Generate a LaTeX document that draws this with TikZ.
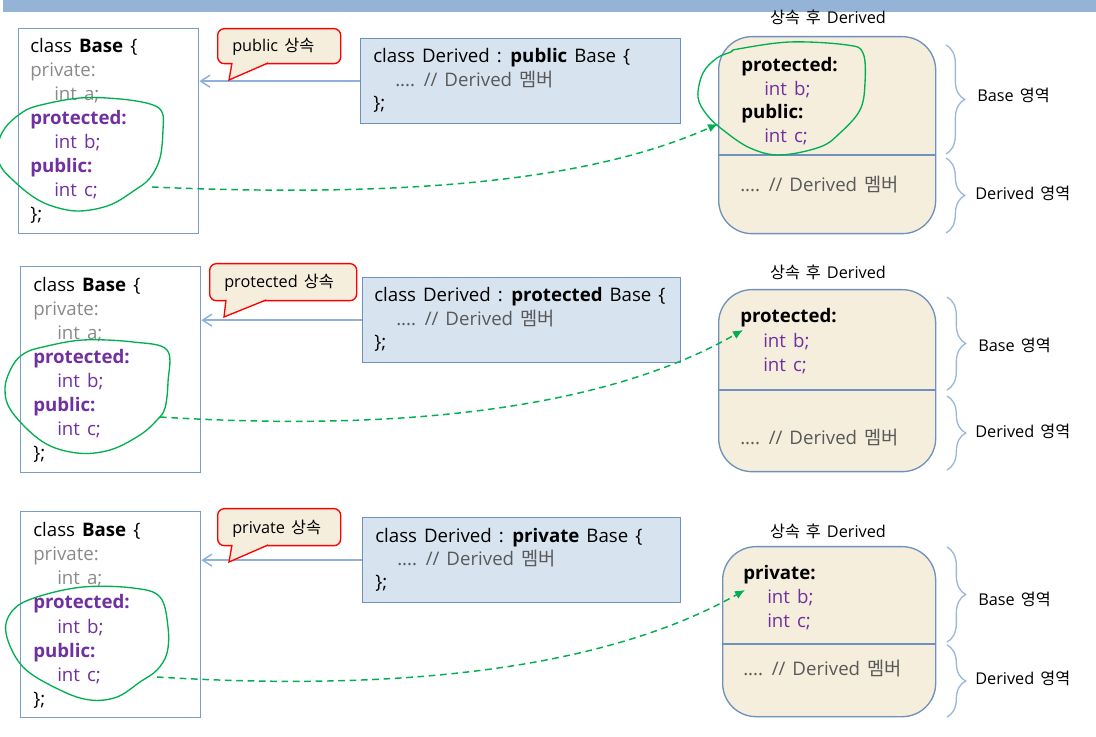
\documentclass[tikz,border=0pt]{standalone}
\usepackage{fontspec}
\setmainfont{Open Sans}[WordSpace=1.45]
\newfontfamily\kr{Noto Sans CJK KR}[WordSpace=1.6]
\usetikzlibrary{arrows.meta,decorations.pathreplacing}
\definecolor{barblue}{HTML}{95B3D7}
\definecolor{boxline}{HTML}{7A9CC8}
\definecolor{dfill}{HTML}{D7E3EF}
\definecolor{dline}{HTML}{6F91BD}
\definecolor{cream}{HTML}{F5EEDC}
\definecolor{purp}{HTML}{7030A0}
\definecolor{gtext}{HTML}{8A8A8A}
\definecolor{dgray}{HTML}{595959}
\definecolor{grn}{HTML}{00B050}
\definecolor{brc}{HTML}{9DB7DA}
\definecolor{arr}{HTML}{8EB0DA}
\newcommand\mybasecode[3]{%
  \node[code] (#1l1) at (#2,#3) {class \textbf{Base} \{};
  \node[code,text=gtext] (#1l2) at (#2,#3+24) {private:};
  \node[code,text=gtext] (#1l3) at (#2+24,#3+48) {int a;};
  \node[code,text=purp,font=\codefont\bfseries] (#1l4) at (#2,#3+72) {protected:};
  \node[code,text=purp] (#1l5) at (#2+24,#3+96) {int b;};
  \node[code,text=purp,font=\codefont\bfseries] (#1l6) at (#2,#3+120) {public:};
  \node[code,text=purp] (#1l7) at (#2+24,#3+144) {int c;};
  \node[code] (#1l8) at (#2,#3+168) {\};};
}
\newcommand\myderivcode[4]{%
  \node[code] (#1l1) at (#2,#3) {class Derived : \textbf{#4} Base \{};
  \node[code,text=dgray] (#1l2) at (#2+22,#3+23.5) {.... // Derived {\kr 멤버}};
  \node[code] (#1l3) at (#2,#3+47) {\};};
}
\newcommand\codefont{\fontsize{14}{17}\selectfont}
\begin{document}
\begin{tikzpicture}[x=0.75pt,y=-0.75pt,
  basebox/.style={draw=boxline, line width=1pt, anchor=north west, inner sep=0pt, fill=white},
  dbox/.style={draw=dline, fill=dfill, line width=1pt, anchor=north west, inner sep=0pt},
  rbox/.style={draw=dline, fill=cream, line width=1pt, rounded corners=25pt, anchor=north west, inner sep=0pt},
  calloutbox/.style={draw=red, fill=cream, line width=1pt, rounded corners=5pt, anchor=north west, inner sep=0pt},
  ptr/.style={draw=red, line width=1pt, line join=miter},
  code/.style={font=\codefont, anchor=base west, inner sep=0pt},
  lbl/.style={font=\fontsize{12.2}{14}\selectfont, anchor=base west, inner sep=0pt},
  inh/.style={draw=arr, line width=1.1pt, -{Straight Barb[length=7pt,width=9pt]}},
  flow/.style={draw=grn, line width=1.1pt, dash pattern=on 5pt off 3.5pt, -{Latex[length=7.5pt,width=6.5pt]}},
  loopline/.style={draw=grn, line width=1pt},
  bracel/.style={draw=brc, line width=1pt, decorate, decoration={brace, amplitude=14pt}},
  divider/.style={draw=dline, line width=0.8pt}]
\useasboundingbox (0,0) rectangle (1096,737);
\fill[barblue] (3,0) rectangle (1096,12);

% ================= Panel 1 =================
\node[basebox, minimum width=135pt, minimum height=153.75pt] (b1) at (18,28) {};
\mybasecode{b1t}{30}{53}
\node[dbox, minimum width=240pt, minimum height=63.75pt] (d1) at (360,38) {};
\myderivcode{d1t}{373}{63}{public}
\draw[inh] (d1.west) -- (d1.west -| b1.east);
\node[calloutbox, minimum width=92.25pt, minimum height=26.25pt] (c1) at (217,28) {};
\fill[cream] (233,61) rectangle (267,64.5);
\fill[cream] (232,63) -- (229,80) -- (268,63) -- cycle;
\draw[ptr] (232,63) -- (229,80) -- (268,63);
\node[lbl] (c1t) at (232,52) {public {\kr 상속}};
\node[lbl, anchor=base] (t1) at (828,24) {{\kr 상속 후} Derived};
\node[rbox, minimum width=162.75pt, minimum height=147.75pt] (r1) at (718,36) {};
\draw[divider] (718,155) -- (935,155);
\node[code,font=\codefont\bfseries] (r1a) at (741,72) {protected:};
\node[code,text=purp] (r1b) at (764,95.5) {int b;};
\node[code,font=\codefont\bfseries] (r1c) at (741,119) {public:};
\node[code,text=purp] (r1d) at (764,143) {int c;};
\node[code,text=dgray] (r1e) at (740,192) {.... // Derived {\kr 멤버}};
\draw[bracel] (946,45) -- (946,154);
\draw[bracel] (946,158) -- (946,233);
\node[lbl] (r1l1) at (977,102) {Base {\kr 영역}};
\node[lbl] (r1l2) at (975,200) {Derived {\kr 영역}};
\draw[loopline] plot[smooth cycle, tension=0.6] coordinates {(37,106) (80,98) (120,99) (150,104) (162,112) (163,130) (160,158) (150,178) (135,190) (110,205) (80,211) (55,207) (35,198) (15,182) (0,165) (-2,145) (5,128) (20,114)};
\draw[loopline] plot[smooth cycle, tension=0.6] coordinates {(738,49) (790,42) (847,45) (863,53) (865,83) (860,110) (840,133) (820,147) (780,155) (750,148) (723,130) (707,115) (698,97) (703,73) (717,58) (731,52)};
\coordinate (s1) at (152,187);
\coordinate (e1) at (718,124);
\draw[flow] (s1) .. controls (450,200) and (610,172) .. (e1);

% ================= Panel 2 =================
\node[basebox, minimum width=135pt, minimum height=154.5pt] (b2) at (20,266) {};
\mybasecode{b2t}{33}{292}
\node[dbox, minimum width=238.5pt, minimum height=63.75pt] (d2) at (362,277) {};
\myderivcode{d2t}{374}{302}{protected}
\draw[inh] (d2.west) -- (d2.west -| b2.east);
\node[calloutbox, minimum width=110.25pt, minimum height=27.75pt] (c2) at (209,263) {};
\fill[cream] (227,298) rectangle (265,301.5);
\fill[cream] (226,300) -- (224,317) -- (266,300) -- cycle;
\draw[ptr] (226,300) -- (224,317) -- (266,300);
\node[lbl] (c2t) at (224,288) {protected {\kr 상속}};
\node[lbl, anchor=base] (t2) at (828,279) {{\kr 상속 후} Derived};
\node[rbox, minimum width=162.75pt, minimum height=136.5pt] (r2) at (718,289) {};
\draw[divider] (718,390) -- (935,390);
\node[code,font=\codefont\bfseries] (r2a) at (740,323) {protected:};
\node[code,text=purp] (r2b) at (763,348) {int b;};
\node[code,text=purp] (r2c) at (763,372) {int c;};
\node[code,text=dgray] (r2e) at (740,445) {.... // Derived {\kr 멤버}};
\draw[bracel] (947,297) -- (947,390);
\draw[bracel] (947,396) -- (947,470);
\node[lbl] (r2l1) at (978,352) {Base {\kr 영역}};
\node[lbl] (r2l2) at (975,438) {Derived {\kr 영역}};
\draw[loopline] plot[smooth cycle, tension=0.6] coordinates {(43,347) (83,340) (133,342) (167,350) (168,382) (165,408) (157,420) (140,435) (110,450) (77,453) (43,442) (12,412) (5,388) (13,365) (25,353)};
\coordinate (s2) at (160,417);
\coordinate (e2) at (743,330);
\draw[flow] (s2) .. controls (450,435) and (630,395) .. (e2);

% ================= Panel 3 =================
\node[basebox, minimum width=135pt, minimum height=154.5pt] (b3) at (20,511) {};
\mybasecode{b3t}{33}{537}
\node[dbox, minimum width=238.5pt, minimum height=63.75pt] (d3) at (362,517) {};
\myderivcode{d3t}{375}{542}{private}
\draw[inh] (d3.west) -- (d3.west -| b3.east);
\node[calloutbox, minimum width=92.25pt, minimum height=27.75pt] (c3) at (217,508) {};
\fill[cream] (233,543) rectangle (267,546.5);
\fill[cream] (232,545) -- (229,562) -- (268,545) -- cycle;
\draw[ptr] (232,545) -- (229,562) -- (268,545);
\node[lbl] (c3t) at (232,534) {private {\kr 상속}};
\node[lbl, anchor=base] (t3) at (828,538) {{\kr 상속 후} Derived};
\node[rbox, minimum width=159.75pt, minimum height=127.5pt] (r3) at (722,546) {};
\draw[divider] (722,644) -- (935,644);
\node[code,font=\codefont\bfseries] (r3a) at (743,580) {private:};
\node[code,text=purp] (r3b) at (767,603) {int b;};
\node[code,text=purp] (r3c) at (767,627) {int c;};
\node[code,text=dgray] (r3e) at (743,675) {.... // Derived {\kr 멤버}};
\draw[bracel] (947,547) -- (947,642);
\draw[bracel] (947,645) -- (947,717);
\node[lbl] (r3l1) at (978,605) {Base {\kr 영역}};
\node[lbl] (r3l2) at (975,684) {Derived {\kr 영역}};
\draw[loopline] plot[smooth cycle, tension=0.6] coordinates {(37,597) (83,587) (133,588) (160,597) (168,627) (167,653) (157,670) (140,682) (117,697) (90,700) (60,690) (23,667) (6,633) (13,610)};
\coordinate (s3) at (157,677);
\coordinate (e3) at (745,590);
\draw[flow] (s3) .. controls (450,695) and (630,655) .. (e3);
\end{tikzpicture}
\end{document}
